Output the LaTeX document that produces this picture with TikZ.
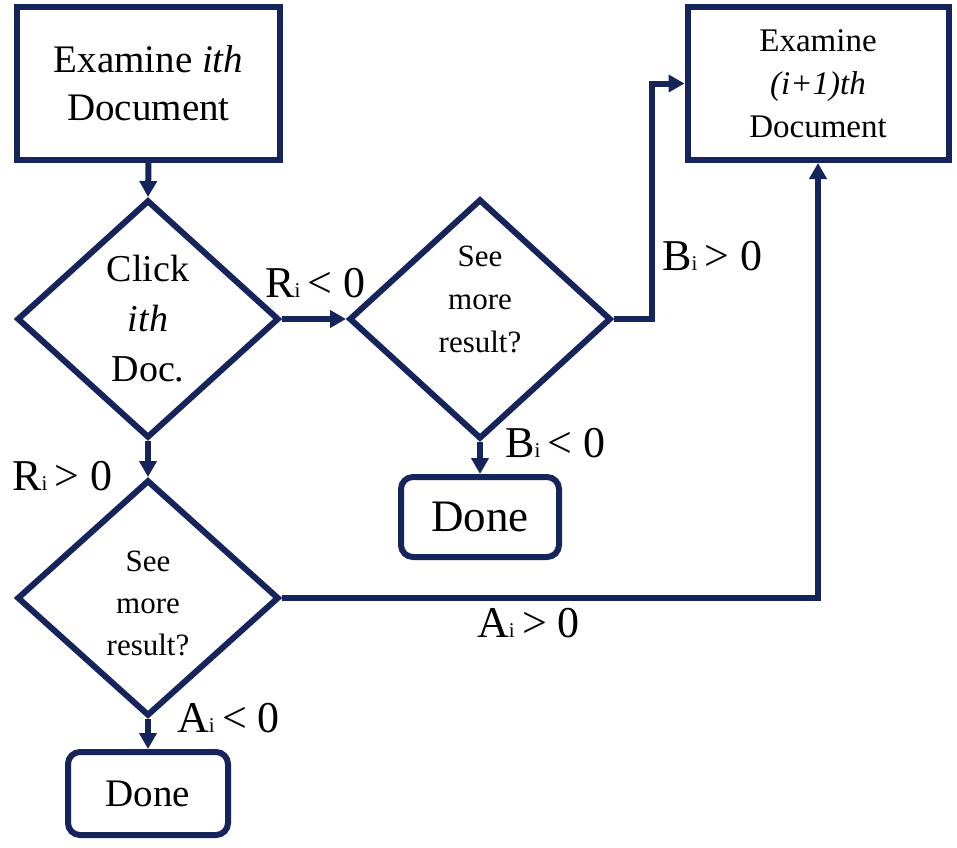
\documentclass[tikz,border=0pt]{standalone}
\usepackage{fontspec}
\setmainfont{Liberation Serif}
\usetikzlibrary{shapes.geometric,arrows.meta}
\definecolor{navy}{RGB}{22,36,92}
\newcommand\subi{{\fontsize{21}{21}\selectfont i}}
\begin{document}
\begin{tikzpicture}[x=1pt,y=-1pt,
  box/.style={draw=navy,line width=6pt,rectangle,align=center,inner sep=0pt},
  dia/.style={draw=navy,line width=6pt,diamond,align=center,inner sep=0pt},
  donebox/.style={draw=navy,line width=6pt,rectangle,rounded corners=12pt,inner sep=0pt},
  txt/.style={align=center,inner sep=0pt},
  lab/.style={anchor=base west,inner sep=0pt,font=\fontsize{44}{44}\selectfont},
  arr/.style={draw=navy,line width=6pt,-{Triangle[length=16pt,width=17pt]}}
]
\useasboundingbox (0,0) rectangle (957,847);
\fill[white] (0,0) rectangle (957,847);

\node[box,minimum width=263pt,minimum height=153pt,font=\fontsize{39}{48}\selectfont] (b1) at (148.5,83.5) {Examine \textit{ith}\\Document};
\node[box,minimum width=261pt,minimum height=153pt,font=\fontsize{33}{43}\selectfont] (b2) at (818,83.5) {Examine\\\textit{(i+1)th}\\Document};

\node[dia,minimum width=262pt,minimum height=238pt,font=\fontsize{38}{50}\selectfont] (d1) at (148,319) {Click\\\textit{ith}\\Doc.};
\node[dia,minimum width=262pt,minimum height=240pt] (d2) at (480,319) {};
\node[txt,font=\fontsize{31}{43}\selectfont] (d2t) at (480,299) {See\\more\\result?};
\node[dia,minimum width=262pt,minimum height=236pt] (d3) at (148,598) {};
\node[txt,font=\fontsize{31}{42}\selectfont] (d3t) at (148,603) {See\\more\\result?};

\node[donebox,minimum width=158pt,minimum height=80pt,font=\fontsize{45}{45}\selectfont] (done1) at (480,517) {Done};
\node[donebox,minimum width=160pt,minimum height=83pt,font=\fontsize{39}{39}\selectfont] (done2) at (148,793.5) {Done};

\draw[arr] (b1.south) -- (d1.north);
\draw[arr] (d1.east) -- (d2.west);
\draw[arr] (d2.east) -- ++(38,0) |- (b2.west);
\draw[arr] (d2.south) -- (done1.north);
\draw[arr] (d1.south) -- (d3.north);
\draw[arr] (d3.east) -| (b2.south);
\draw[arr] (d3.south) -- (done2.north);

\node[lab] (l1) at (265,297) {R\subi\,<\ 0};
\node[lab] (l2) at (662,270) {B\subi\,>\ 0};
\node[lab] (l3) at (505,457) {B\subi\,<\ 0};
\node[lab] (l4) at (12,490) {R\subi\,>\ 0};
\node[lab] (l5) at (177,732) {A\subi\,<\ 0};
\node[lab] (l6) at (477,637) {A\subi\,>\ 0};
\end{tikzpicture}
\end{document}
